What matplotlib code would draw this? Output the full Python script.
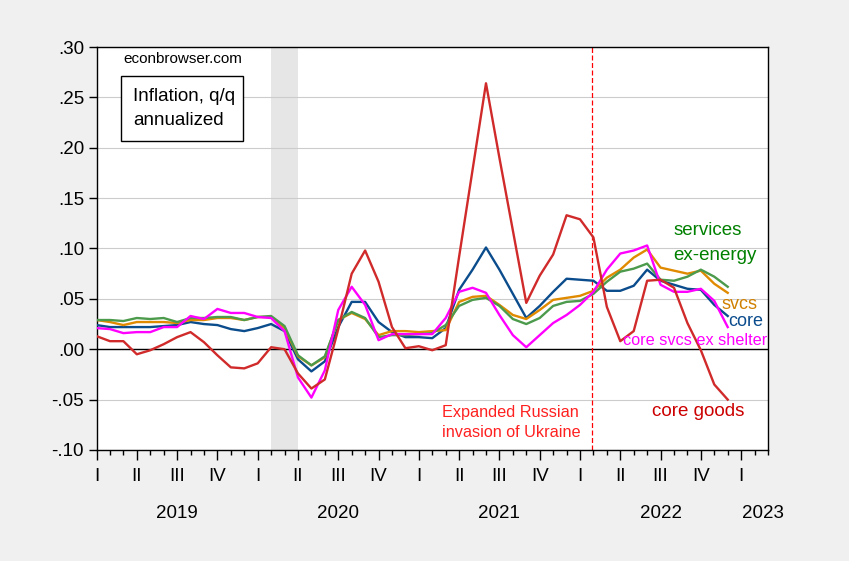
import numpy as np
import matplotlib.pyplot as plt
import matplotlib.patches as patches

plt.rcParams['font.family'] = ['Liberation Sans', 'DejaVu Sans']

# monthly, Jan 2019 = 0 ... Dec 2022 = 47
core = [0.024, 0.022, 0.022, 0.022, 0.022, 0.023, 0.024, 0.027, 0.025, 0.024,
        0.020, 0.018, 0.021, 0.025, 0.018, -0.010, -0.022, -0.012, 0.022, 0.047,
        0.047, 0.027, 0.017, 0.012, 0.012, 0.011, 0.021, 0.059, 0.079, 0.101,
        0.079, 0.055, 0.031, 0.043, 0.057, 0.070, 0.069, 0.068, 0.058, 0.058,
        0.063, 0.079, 0.068, 0.064, 0.060, 0.059, 0.044, 0.033]
svcs = [0.029, 0.027, 0.024, 0.027, 0.027, 0.027, 0.026, 0.029, 0.029, 0.031,
        0.031, 0.029, 0.032, 0.032, 0.021, -0.007, -0.016, -0.008, 0.029, 0.036,
        0.030, 0.014, 0.018, 0.018, 0.017, 0.018, 0.019, 0.047, 0.052, 0.053,
        0.044, 0.034, 0.030, 0.039, 0.049, 0.051, 0.053, 0.058, 0.071, 0.079,
        0.091, 0.099, 0.081, 0.078, 0.075, 0.078, 0.065, 0.056]
svcs_ex_energy = [0.029, 0.029, 0.028, 0.031, 0.030, 0.031, 0.027, 0.031, 0.031, 0.032,
                  0.032, 0.029, 0.032, 0.033, 0.023, -0.006, -0.016, -0.007, 0.029, 0.037,
                  0.031, 0.012, 0.014, 0.014, 0.015, 0.016, 0.024, 0.043, 0.049, 0.051,
                  0.043, 0.030, 0.025, 0.031, 0.043, 0.047, 0.048, 0.055, 0.067, 0.077,
                  0.080, 0.085, 0.069, 0.068, 0.072, 0.079, 0.072, 0.062]
svcs_ex_shelter = [0.021, 0.020, 0.016, 0.017, 0.017, 0.022, 0.022, 0.033, 0.030, 0.040,
                   0.036, 0.036, 0.032, 0.031, 0.018, -0.028, -0.048, -0.021, 0.039, 0.062,
                   0.044, 0.009, 0.015, 0.015, 0.015, 0.015, 0.031, 0.057, 0.061, 0.056,
                   0.034, 0.014, 0.002, 0.014, 0.026, 0.034, 0.044, 0.057, 0.079, 0.095,
                   0.098, 0.103, 0.064, 0.057, 0.057, 0.060, 0.048, 0.022]
core_goods = [0.013, 0.008, 0.008, -0.005, -0.001, 0.005, 0.012, 0.017, 0.007, -0.006,
              -0.018, -0.019, -0.014, 0.002, 0.000, -0.024, -0.039, -0.030, 0.020, 0.075,
              0.098, 0.067, 0.022, 0.001, 0.003, -0.001, 0.004, 0.092, 0.178, 0.264,
              0.190, 0.118, 0.046, 0.073, 0.094, 0.133, 0.129, 0.111, 0.042, 0.008,
              0.018, 0.068, 0.069, 0.061, 0.026, -0.001, -0.035, -0.050]

years = ['2019', '2020', '2021', '2022', '2023']
year_pos = [6, 18, 30, 42, 49.6]
quarters = ['I', 'II', 'III', 'IV']
yticks = [-0.10, -0.05, 0.0, 0.05, 0.10, 0.15, 0.20, 0.25, 0.30]
ylabels = ['-.10', '-.05', '.00', '.05', '.10', '.15', '.20', '.25', '.30']
recession = (13, 15)
invasion = 36.9

t = np.arange(len(core))

fig = plt.figure(figsize=(8.49, 5.61), dpi=100, facecolor='#f0f0f0')
ax = fig.add_axes([0.1137, 0.1979, 0.7909, 0.7183])
ax.set_facecolor('white')

ax.axvspan(recession[0], recession[1], color='#e6e6e6', lw=0, zorder=0)
for y in yticks:
    ax.axhline(y, color='#cccccc', lw=0.8, zorder=1)
ax.axhline(0, color='black', lw=1.0, zorder=2)
ax.axvline(invasion, color='#ff0000', lw=0.9, ls=(0, (4, 2)), zorder=2)

lw = 1.7
ax.plot(t, core, color='#0b4c8c', lw=lw, zorder=3)
ax.plot(t, svcs, color='#e08a00', lw=lw, zorder=3)
ax.plot(t, svcs_ex_energy, color='#4c9a4c', lw=lw, zorder=3)
ax.plot(t, svcs_ex_shelter, color='#ff00ff', lw=lw, zorder=3)
ax.plot(t, core_goods, color='#d02a2a', lw=lw, zorder=3)

ax.set_xlim(0, 50)
ax.set_ylim(-0.10, 0.30)
ax.set_yticks(yticks)
ax.set_yticklabels(ylabels, fontsize=13.5)
ax.tick_params(axis='y', direction='out', length=6, width=1, pad=3)

qt = np.arange(0, 49, 3)
ax.set_xticks(qt)
ax.set_xticklabels([quarters[(q // 3) % 4] for q in qt], fontsize=13.5)
ax.set_xticks(np.arange(0, 51), minor=True)
ax.tick_params(axis='x', which='major', direction='out', length=7, width=1, pad=6)
ax.tick_params(axis='x', which='minor', direction='out', length=3.5, width=1)
for s in ax.spines.values():
    s.set_color('black')
    s.set_linewidth(1.0)

for yr, xp in zip(years, year_pos):
    ax.text(xp, -0.158, yr, transform=ax.get_xaxis_transform(),
            ha='center', va='center', fontsize=13.5)

ax.text(1.97, 0.288, 'econbrowser.com', fontsize=11, ha='left', va='center')
ax.add_patch(patches.Rectangle((1.83, 0.207), 9.07, 0.064, facecolor='white',
                               edgecolor='black', lw=1, zorder=4))
ax.text(2.7, 0.239, 'Inflation, q/q\nannualized', fontsize=13.5, ha='left',
        va='center', linespacing=1.55, zorder=5)

ax.text(42.97, 0.118, 'services', color='#008000', fontsize=13.5, va='center')
ax.text(42.97, 0.0926, 'ex-energy', color='#008000', fontsize=13.5, va='center')
ax.text(46.5, 0.0445, 'svcs', color='#d08000', fontsize=13, va='center')
ax.text(47.05, 0.028, 'core', color='#0b4c8c', fontsize=13, va='center')
ax.text(39.2, 0.0082, 'core svcs ex shelter', color='#ff00ff', fontsize=11.7, va='center')
ax.text(41.33, -0.062, 'core goods', color='#cc0000', fontsize=13.5, va='center')
ax.text(30.85, -0.0725, 'Expanded Russian\ninvasion of Ukraine', color='#ff2020',
        fontsize=11.7, ha='center', va='center', linespacing=1.45)

plt.savefig('out.png', dpi=100, facecolor=fig.get_facecolor())
